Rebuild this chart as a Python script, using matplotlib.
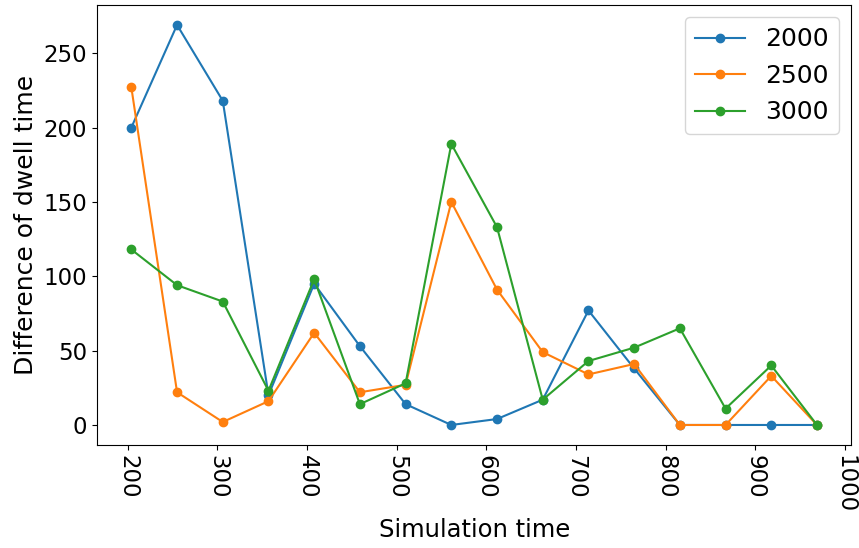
import matplotlib
matplotlib.use("Agg")
import matplotlib.pyplot as plt

# simulation time (x) and dwell time differences per series
sim_time = [204, 255, 306, 357, 408, 459, 510, 561, 612, 663, 714, 765, 816, 867, 918, 969]
diff_2000 = [200, 269, 218, 20, 95, 53, 14, 0, 4, 17, 77, 38, 0, 0, 0, 0]
diff_2500 = [227, 22, 2, 16, 62, 22, 27, 150, 91, 49, 34, 41, 0, 0, 33, 0]
diff_3000 = [118, 94, 83, 23, 98, 14, 28, 189, 133, 17, 43, 52, 65, 11, 40, 0]
labels = ['2000', '2500', '3000']

fig, ax = plt.subplots(figsize=(8.59, 5.48), dpi=100)
for ys, lab in zip([diff_2000, diff_2500, diff_3000], labels):
    ax.plot(sim_time, ys, marker='o', label=lab)

ax.set_xlabel('Simulation time', fontsize=17.5)
ax.set_ylabel('Difference of dwell time', fontsize=18)
ax.tick_params(axis='both', labelsize=16.5)
plt.setp(ax.get_xticklabels(), rotation=270)
ax.legend(fontsize=18, loc='upper right')
fig.subplots_adjust(left=0.113, right=0.991, top=0.991, bottom=0.188)
fig.savefig('out.png', dpi=100)
